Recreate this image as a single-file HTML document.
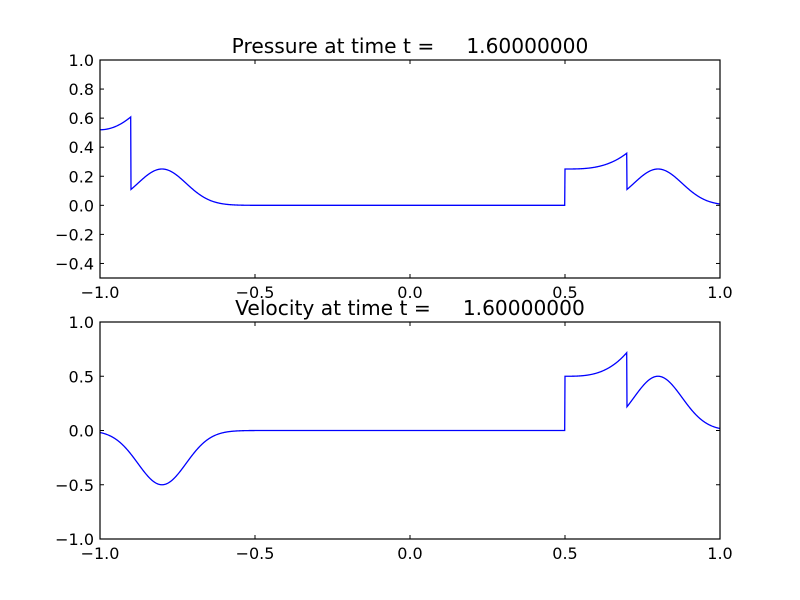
<!DOCTYPE html>
<html><head><meta charset="utf-8"><style>body{margin:0;background:#fff}svg{display:block}text{font-family:"DejaVu Sans","Liberation Sans",sans-serif;fill:#000}</style></head>
<body>
<svg id="s" width="800" height="600" xmlns="http://www.w3.org/2000/svg">
<rect width="800" height="600" fill="#fff"/>
<text x="410" y="53" font-size="20.2" text-anchor="middle" xml:space="preserve">Pressure at time t =     1.60000000</text>
<text x="410" y="315" font-size="20.2" text-anchor="middle" xml:space="preserve">Velocity at time t =     1.60000000</text>
<g id="g"></g>
</svg>
<script>
var g=document.getElementById('g'),o='';
function ax(top,bot,ymin,ymax,yt,fmt,f){
 var X=function(x){return 100+(x+1)*310},Y=function(y){return bot-(y-ymin)/(ymax-ymin)*(bot-top)};
 var pts=[];for(var i=0;i<=2000;i++){var x=-1+i/1000;pts.push(X(x).toFixed(2)+','+Y(f(x)).toFixed(2));}
 o+='<polyline points="'+pts.join(' ')+'" fill="none" stroke="#0000ff" stroke-width="1.3"/>';
 o+='<rect x="100" y="'+top+'" width="620" height="'+(bot-top)+'" fill="none" stroke="#000" stroke-width="1.2"/>';
 [-1,-0.5,0,0.5,1].forEach(function(t){var x=X(t);o+='<line x1="'+x+'" y1="'+bot+'" x2="'+x+'" y2="'+(bot-4)+'" stroke="#000"/><line x1="'+x+'" y1="'+top+'" x2="'+x+'" y2="'+(top+4)+'" stroke="#000"/>';
  o+='<text x="'+x+'" y="'+(bot+20)+'" font-size="16" text-anchor="middle">'+(t<0?'\u2212':'')+Math.abs(t).toFixed(1)+'</text>';});
 yt.forEach(function(t){var y=Y(t);o+='<line x1="100" y1="'+y+'" x2="104" y2="'+y+'" stroke="#000"/><line x1="720" y1="'+y+'" x2="716" y2="'+y+'" stroke="#000"/>';
  o+='<text x="94" y="'+(y+6)+'" font-size="16" text-anchor="end">'+(t<-1e-9?'\u2212':'')+Math.abs(t).toFixed(1)+'</text>';});
}
function bump(x,c,a){return a*Math.exp(-Math.pow((x-c)/0.11,2));}
function P(x){
 if(x<-0.9)return 0.52+0.09*Math.pow((x+1)/0.1,2);
 if(x<0.5)return bump(x,-0.8,0.25);
 if(x<0.7)return 0.25+0.11*Math.pow((x-0.5)/0.2,3);
 return bump(x,0.8,0.25);
}
function V(x){
 if(x<0.5)return -bump(x,-0.8,0.5);
 if(x<0.7)return 0.5+0.22*Math.pow((x-0.5)/0.2,3);
 return bump(x,0.8,0.5);
}
ax(60,278,-0.5,1.0,[-0.4,-0.2,0,0.2,0.4,0.6,0.8,1.0],1,P);
ax(322,539,-1,1,[-1,-0.5,0,0.5,1],1,V);
g.innerHTML=o;
</script>
</body></html>
